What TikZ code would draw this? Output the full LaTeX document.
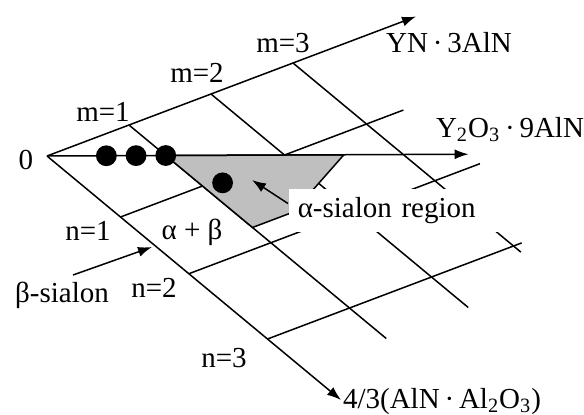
\documentclass[tikz,border=0pt]{standalone}
\usepackage{fontspec}
\setmainfont{Liberation Serif}
\usetikzlibrary{arrows.meta}

\tikzset{
    lbl/.style={font=\fontsize{14.5}{17}\selectfont, inner sep=1pt, anchor=base},
    >={Latex[length=7pt,width=5pt]}
}

\begin{document}
\begin{tikzpicture}[x=0.5pt, y=-0.5pt, line width=0.75pt]

    \useasboundingbox (0,0) rectangle (584,414);

    \coordinate (O) at (47,156);

    % composition plane: m along YN.3AlN, n along 4/3(AlN.Al2O3)
    \begin{scope}[shift={(O)}, x={(41pt,15.5pt)}, y={(36.75pt,-30.5pt)}]

        % Grid lines, m constant
        \draw (1,0) -- (1,3.5);
        \draw (2,0) -- (2,3.5);
        \draw (3,0) -- (3,3.1);

        % Grid lines, n constant
        \draw (0,1) -- (3.45,1);
        \draw (0,1.93) -- (3.55,1.93);
        \draw (0,3) -- (3.1,3);

        % alpha-sialon region (grey)
        \draw[fill=black!25] (1,0.5) -- (2.5,1.25) -- (1.5,1.68) -- (1,1.68) -- cycle;

        % Axis ends
        \coordinate (mend) at (4.5,0);
        \coordinate (nend) at (0,4);
        \coordinate (yend) at (3.55,1.775);

        % Compositions
        \coordinate (d1) at (0.5,0.25);
        \coordinate (d2) at (0.75,0.375);
        \coordinate (d3) at (1,0.5);
        \coordinate (d4) at (1.2,1.05);
    \end{scope}

    % Axes
    \draw[->] (O) -- (mend);
    \draw[->] (O) -- (nend);
    \draw[->] (O) -- (yend);

    % Samples
    \foreach \d in {d1,d2,d3,d4}
        \fill (\d) circle[radius=5.2pt];

    % Axis and grid labels
    \node[lbl] (zero) at (26,169) {0};
    \node[lbl] (m1) at (103,121) {m=1};
    \node[lbl] (m2) at (197,82) {m=2};
    \node[lbl] (m3) at (283,52) {m=3};
    \node[lbl] (yn) at (449,52) {YN\,·\,3AlN};
    \node[lbl] (yo) at (510,137) {Y\textsubscript{2}O\textsubscript{3}\,·\,9AlN};
    \node[lbl] (n1) at (88,240) {n=1};
    \node[lbl] (n2) at (154,297) {n=2};
    \node[lbl] (n3) at (224,367) {n=3};
    \node[lbl] (aln) at (442,408) {4/3(AlN\,·\,Al\textsubscript{2}O\textsubscript{3})};

    % Phase fields
    \node[lbl] (ab) at (192,239) {α + β};
    \node[lbl] (blabel) at (62,302) {β-sialon};
    \node[lbl, anchor=west, fill=white, text width=97pt, align=left,
          inner xsep=4.5pt, minimum height=21.5pt] (alabel) at (288,210.5) {α-sialon region};

    \coordinate (atip) at (252,180);
    \coordinate (btip) at (152,247);
    \draw[->] ([yshift=3.5pt]alabel.west) -- (atip);
    \draw[->] ([shift={(11,-27)}]blabel.base) -- (btip);

\end{tikzpicture}
\end{document}
